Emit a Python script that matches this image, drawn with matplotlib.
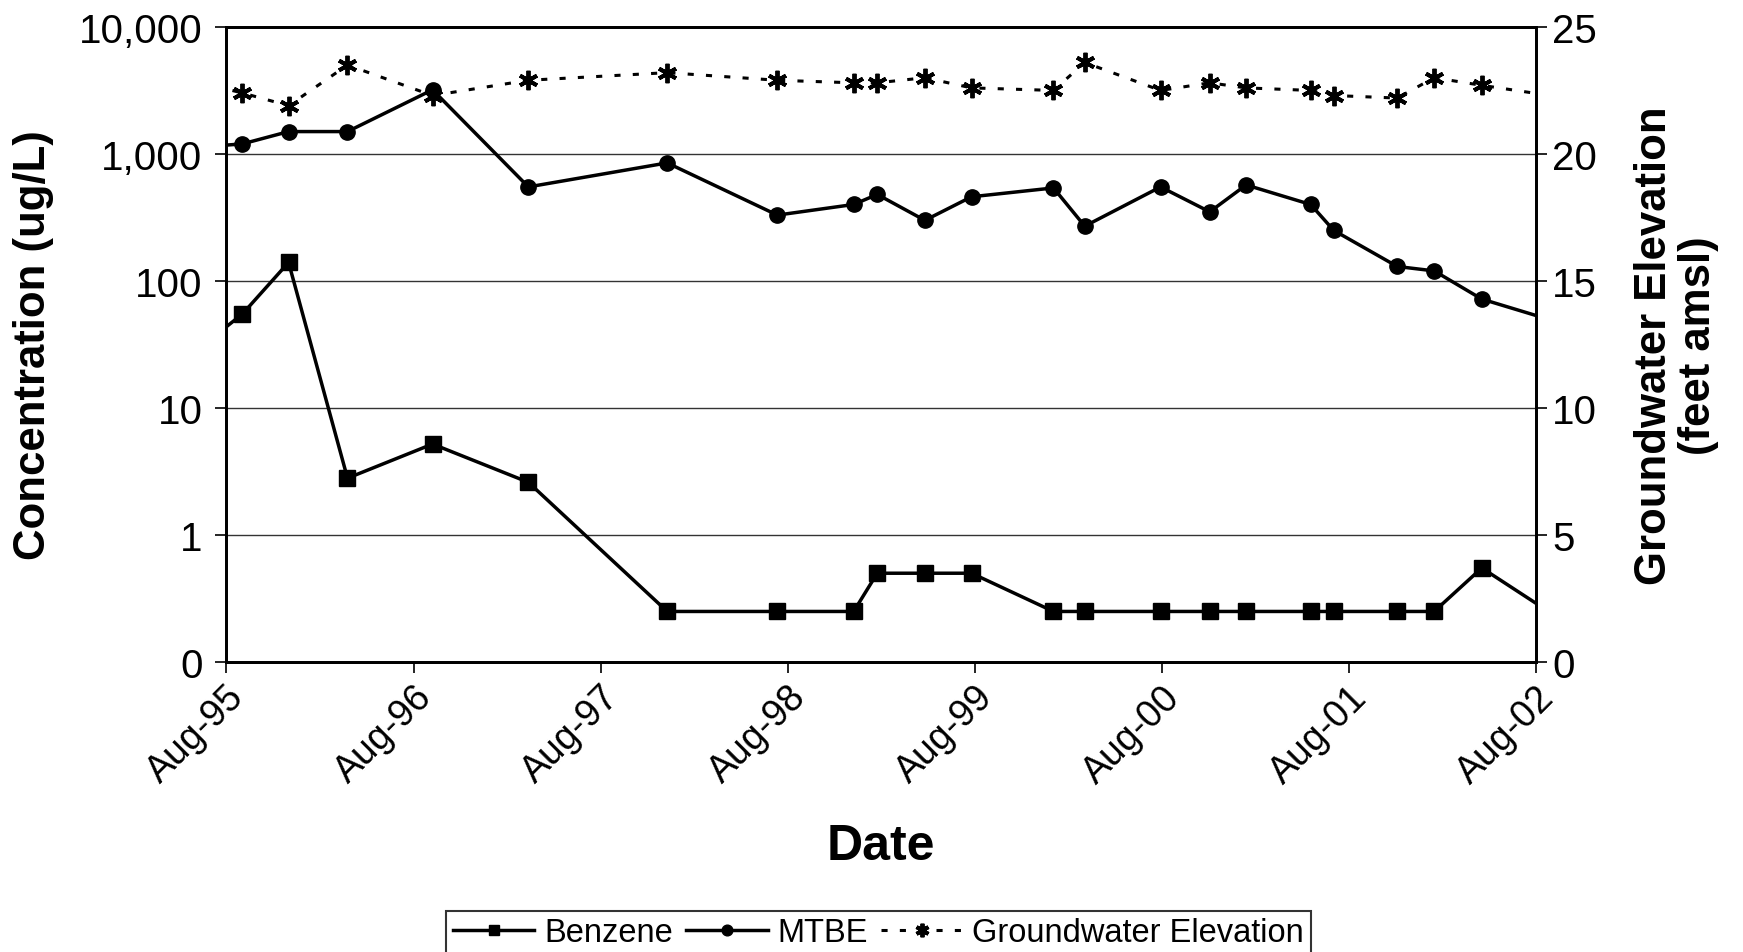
import matplotlib
matplotlib.use("Agg")
import matplotlib.pyplot as plt
import matplotlib.dates as mdates
import pandas as pd

plt.rcParams['font.family'] = ['Liberation Sans', 'DejaVu Sans']

# sample dates (first and last points sit just outside the axis range, as in the original)
dates = pd.to_datetime([
    '1995-05-01', '1995-09-02', '1995-12-01', '1996-03-25', '1996-09-07', '1997-03-13',
    '1997-12-09', '1998-07-12', '1998-12-08', '1999-01-23', '1999-04-26', '1999-07-26',
    '2000-01-02', '2000-03-03', '2000-07-29', '2000-11-02', '2001-01-12', '2001-05-18',
    '2001-07-02', '2001-11-03', '2002-01-14', '2002-04-17', '2002-10-01'])

benzene = [22, 55, 140, 2.8, 5.2, 2.6,
           0.25, 0.25, 0.25, 0.5, 0.5, 0.5,
           0.25, 0.25, 0.25, 0.25, 0.25, 0.25,
           0.25, 0.25, 0.25, 0.55, 0.2]
mtbe = [1100, 1200, 1500, 1500, 3200, 550,
        850, 330, 400, 480, 300, 460,
        540, 270, 550, 350, 570, 400,
        250, 130, 120, 72, 45]
gw_elev = [23.0, 22.4, 21.9, 23.5, 22.3, 22.9,
           23.2, 22.9, 22.8, 22.8, 23.0, 22.6,
           22.5, 23.6, 22.5, 22.8, 22.6, 22.5,
           22.3, 22.2, 23.0, 22.7, 22.2]

conc_ticks = [0.1, 1, 10, 100, 1000, 10000]
conc_labels = ['0', '1', '10', '100', '1,000', '10,000']
elev_ticks = [0, 5, 10, 15, 20, 25]

fig = plt.figure(figsize=(17.43, 9.53), dpi=100)
ax = fig.add_axes([0.1297, 0.3043, 0.7516, 0.6664])
ax2 = ax.twinx()

l1, = ax.plot(dates, benzene, color='black', lw=2.5, marker='s', ms=11, label='Benzene')
l2, = ax.plot(dates, mtbe, color='black', lw=2.5, marker='o', ms=11, label='MTBE')
l3, = ax2.plot(dates, gw_elev, color='black', lw=2.2, ls=(0, (2, 4)), marker=(6, 2, 0),
               ms=14, mew=2.8, label='Groundwater Elevation')

ax.set_yscale('log')
ax.set_ylim(0.1, 10000)
ax.set_yticks(conc_ticks)
ax.set_yticklabels(conc_labels)
ax.yaxis.set_minor_locator(matplotlib.ticker.NullLocator())
ax.grid(axis='y', color='#333333', lw=1)
ax.set_axisbelow(True)

ax2.set_ylim(0, 25)
ax2.set_yticks(elev_ticks)

ax.set_xlim(pd.Timestamp('1995-08-01'), pd.Timestamp('2002-08-01'))
ax.xaxis.set_major_locator(mdates.MonthLocator(bymonth=8))
ax.xaxis.set_major_formatter(mdates.DateFormatter('%b-%y'))
for lab in ax.get_xticklabels():
    lab.set_rotation(45)
    lab.set_ha('right')
    lab.set_rotation_mode('anchor')

for a in (ax, ax2):
    a.tick_params(labelsize=29, length=8, width=1.2, direction='out')
    for s in a.spines.values():
        s.set_linewidth(2)
ax.tick_params(axis='y', pad=9)
ax.tick_params(axis='x', labelsize=27, pad=4)

ax.set_xlabel('Date', fontsize=36, fontweight='bold')
ax.xaxis.set_label_coords(0.5, -0.29)
ax.xaxis.label.set_va('center')

ax.set_ylabel('Concentration (ug/L)', fontsize=31.5, fontweight='bold')
ax.yaxis.label.set_va('center')
ax.yaxis.set_label_coords(-0.147, 0.5)

ax2.set_ylabel('Groundwater Elevation\n(feet amsl)', fontsize=31.5, fontweight='bold',
               rotation=90, linespacing=1.1)
ax2.yaxis.label.set_va('center')
ax2.yaxis.set_label_coords(1.107, 0.5)

leg = fig.legend(handles=[l1, l2, l3], loc='center', bbox_to_anchor=(0.504, 0.02),
                 ncol=3, fontsize=23.5, frameon=True, fancybox=False, edgecolor='black',
                 handlelength=2.5, columnspacing=0.4, handletextpad=0.3, borderpad=0.2,
                 numpoints=1, markerscale=0.7)
leg.get_frame().set_linewidth(1.5)

fig.savefig('out.png', dpi=100)
